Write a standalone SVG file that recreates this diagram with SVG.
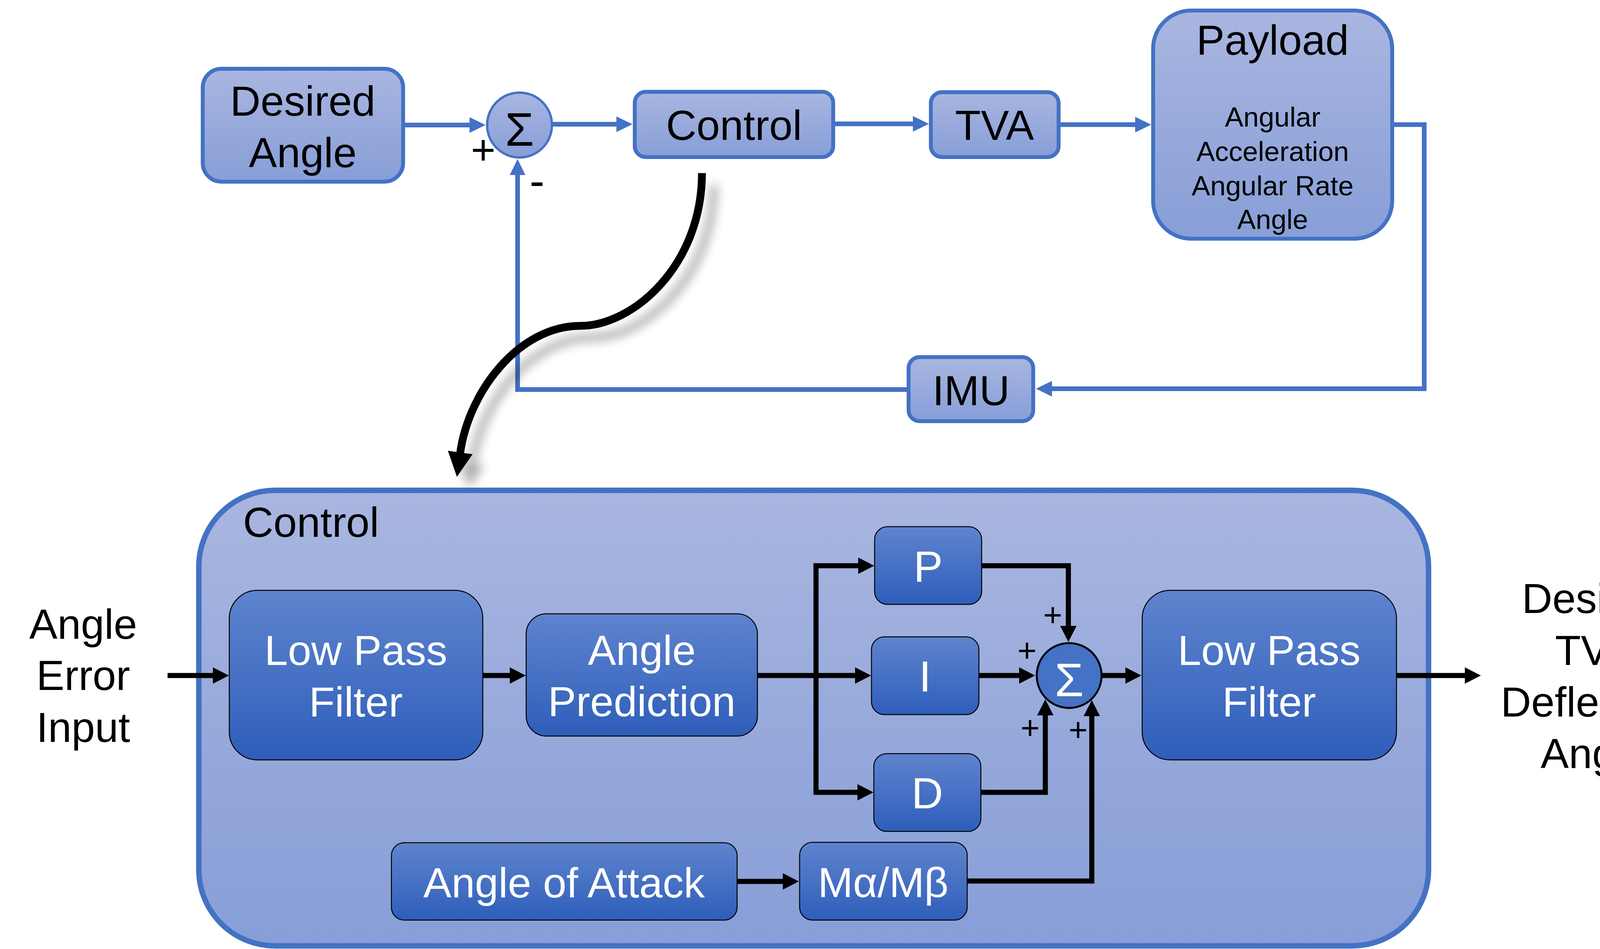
<svg xmlns="http://www.w3.org/2000/svg" width="4424" height="2429" viewBox="0 0 4424 2429">
<defs>
<style>
text{font-family:'Liberation Sans',Arial,sans-serif;text-anchor:middle}
.lt{fill:url(#gl);stroke:#4472C4;stroke-width:10}
.dk{fill:url(#gd);stroke:#000;stroke-width:2.5}
.bt{font-size:108px;fill:#000}
.wt{font-size:108px;fill:#fff}
.sm{font-size:71px;fill:#000}
.pl{font-size:84px;fill:#000}
.bl{fill:none;stroke:#4472C4;stroke-width:12;stroke-linejoin:miter}
.bk{fill:none;stroke:#000;stroke-width:13;stroke-linejoin:miter}
</style>
<linearGradient id="gl" x1="0" y1="0" x2="0" y2="1">
<stop offset="0" stop-color="#A9B6E0"/><stop offset="1" stop-color="#879ED7"/>
</linearGradient>
<linearGradient id="gd" x1="0" y1="0" x2="0" y2="1">
<stop offset="0" stop-color="#5F84CE"/><stop offset="1" stop-color="#2E5EBA"/>
</linearGradient>
<marker id="ab" markerUnits="userSpaceOnUse" viewBox="0 -22 42 44" markerWidth="42" markerHeight="44" refX="1" refY="0" orient="auto">
<path d="M0,-20 L41,0 L0,20 z" fill="#4472C4"/>
</marker>
<marker id="ak" markerUnits="userSpaceOnUse" viewBox="0 -22 42 44" markerWidth="42" markerHeight="44" refX="1" refY="0" orient="auto">
<path d="M0,-21 L41,0 L0,21 z" fill="#000"/>
</marker>
<marker id="ac" markerUnits="userSpaceOnUse" viewBox="0 -34 64 68" markerWidth="64" markerHeight="68" refX="2" refY="0" orient="auto">
<path d="M0,-32 L63,0 L0,32 z" fill="#000"/>
</marker>
<filter id="sh" x="-30%" y="-30%" width="170%" height="170%">
<feGaussianBlur in="SourceAlpha" stdDeviation="13"/>
<feOffset dx="30" dy="30" result="b"/>
<feComponentTransfer><feFuncA type="linear" slope="0.32"/></feComponentTransfer>
<feMerge><feMergeNode/><feMergeNode in="SourceGraphic"/></feMerge>
</filter>
</defs>
<rect width="4424" height="2429" fill="#fff"/>

<!-- top loop nodes -->
<g id="desired-angle">
<rect class="lt" x="519" y="176" width="513" height="289" rx="48"/>
<text class="bt" x="775" y="296">Desired</text>
<text class="bt" x="775" y="428">Angle</text>
</g>
<g id="sum-top">
<circle cx="1330" cy="320" r="83" fill="url(#gl)" stroke="#4472C4" stroke-width="6"/>
<text x="1330" y="373" style="font-size:120px">Σ</text>
<text x="1237" y="420" style="font-size:108px">+</text>
<text x="1375" y="502" style="font-size:115px">-</text>
</g>
<g id="control-top">
<rect class="lt" x="1625" y="235" width="508" height="167" rx="28"/>
<text class="bt" x="1879" y="358">Control</text>
</g>
<g id="tva">
<rect class="lt" x="2383" y="236" width="327" height="166" rx="28"/>
<text class="bt" x="2546" y="358">TVA</text>
</g>
<g id="payload">
<rect class="lt" x="2952" y="27" width="612" height="584" rx="97"/>
<text class="bt" x="3258" y="140">Payload</text>
<text class="sm" x="3258" y="324">Angular</text>
<text class="sm" x="3258" y="412">Acceleration</text>
<text class="sm" x="3258" y="500">Angular Rate</text>
<text class="sm" x="3258" y="586">Angle</text>
</g>
<g id="imu">
<rect class="lt" x="2326" y="914" width="319" height="164" rx="28"/>
<text class="bt" x="2486" y="1037">IMU</text>
</g>

<!-- expanded control block -->
<g id="control-block">
<rect x="509" y="1255" width="3148" height="1166" rx="195" fill="url(#gl)" stroke="#4472C4" stroke-width="14"/>
<text x="622" y="1374" style="font-size:108px;text-anchor:start">Control</text>
</g>
<g id="lpf-in">
<rect class="dk" x="587" y="1511" width="649" height="434" rx="72"/>
<text class="wt" x="911" y="1702">Low Pass</text>
<text class="wt" x="911" y="1834">Filter</text>
</g>
<g id="angle-prediction">
<rect class="dk" x="1347" y="1571" width="592" height="313" rx="52"/>
<text class="wt" x="1643" y="1702">Angle</text>
<text class="wt" x="1643" y="1833">Prediction</text>
</g>
<g id="p">
<rect class="dk" x="2239" y="1348" width="274" height="199" rx="33"/>
<text class="wt" x="2376" y="1489" style="font-size:112px">P</text>
</g>
<g id="i">
<rect class="dk" x="2231" y="1630" width="275" height="199" rx="33"/>
<text class="wt" x="2368" y="1770" style="font-size:112px">I</text>
</g>
<g id="d">
<rect class="dk" x="2237" y="1929" width="274" height="199" rx="33"/>
<text class="wt" x="2374" y="2069" style="font-size:112px">D</text>
</g>
<g id="sum-bottom">
<circle cx="2737" cy="1729" r="83" fill="#4472C4" stroke="#000" stroke-width="5"/>
<text x="2737" y="1782" style="font-size:120px;fill:#fff">Σ</text>
<text class="pl" x="2695" y="1602">+</text>
<text class="pl" x="2629" y="1693">+</text>
<text class="pl" x="2637" y="1891">+</text>
<text class="pl" x="2760" y="1896">+</text>
</g>
<g id="lpf-out">
<rect class="dk" x="2924" y="1511" width="651" height="434" rx="72"/>
<text class="wt" x="3249" y="1702">Low Pass</text>
<text class="wt" x="3249" y="1834">Filter</text>
</g>
<g id="angle-of-attack">
<rect class="dk" x="1002" y="2157" width="885" height="198" rx="33"/>
<text class="wt" x="1444" y="2297">Angle of Attack</text>
</g>
<g id="m-alpha-beta">
<rect class="dk" x="2047" y="2156" width="429" height="199" rx="33"/>
<text class="wt" x="2261" y="2296">Mα/Mβ</text>
</g>
<g id="input-label">
<text class="bt" x="213" y="1635">Angle</text>
<text class="bt" x="213" y="1766">Error</text>
<text class="bt" x="213" y="1899">Input</text>
</g>
<g id="output-label">
<text class="bt" x="4082" y="1569">Desired</text>
<text class="bt" x="4082" y="1702">TVA</text>
<text class="bt" x="4082" y="1834">Deflection</text>
<text class="bt" x="4082" y="1966">Angle</text>
</g>

<g id="connectors">
<!-- top loop -->
<path class="bl" d="M1032,320 H1203" marker-end="url(#ab)"/>
<path class="bl" d="M1413,318 H1579" marker-end="url(#ab)"/>
<path class="bl" d="M2133,317 H2338" marker-end="url(#ab)"/>
<path class="bl" d="M2710,319 H2907" marker-end="url(#ab)"/>
<path class="bl" d="M3564,319 H3646 V995 H2692" marker-end="url(#ab)"/>
<path class="bl" d="M2326,997 H1325 V447" marker-end="url(#ab)"/>
<!-- control internals -->
<path class="bk" d="M429,1729 H546" marker-end="url(#ak)"/>
<path class="bk" d="M1236,1729 H1306" marker-end="url(#ak)"/>
<path class="bk" d="M1939,1729 H2190" marker-end="url(#ak)"/>
<path class="bk" d="M2089,1448 V2028"/>
<path class="bk" d="M2082.5,1448 H2198" marker-end="url(#ak)"/>
<path class="bk" d="M2082.5,2028 H2196" marker-end="url(#ak)"/>
<path class="bk" d="M2513,1448 H2735 V1603" marker-end="url(#ak)"/>
<path class="bk" d="M2506,1729 H2610" marker-end="url(#ak)"/>
<path class="bk" d="M2511,2028 H2676 V1830" marker-end="url(#ak)"/>
<path class="bk" d="M2476,2255 H2795 V1832" marker-end="url(#ak)"/>
<path class="bk" d="M1887,2256 H2005" marker-end="url(#ak)"/>
<path class="bk" d="M2821,1729 H2882" marker-end="url(#ak)"/>
<path class="bk" d="M3575,1729 H3751" marker-end="url(#ak)"/>
<!-- expansion arrow -->
<g filter="url(#sh)">
<path d="M1797,443 C1797,680 1620,834 1486,834 C1330,834 1200,1000 1178,1160" fill="none" stroke="#000" stroke-width="20" marker-end="url(#ac)"/>
</g>
</g>
</svg>
